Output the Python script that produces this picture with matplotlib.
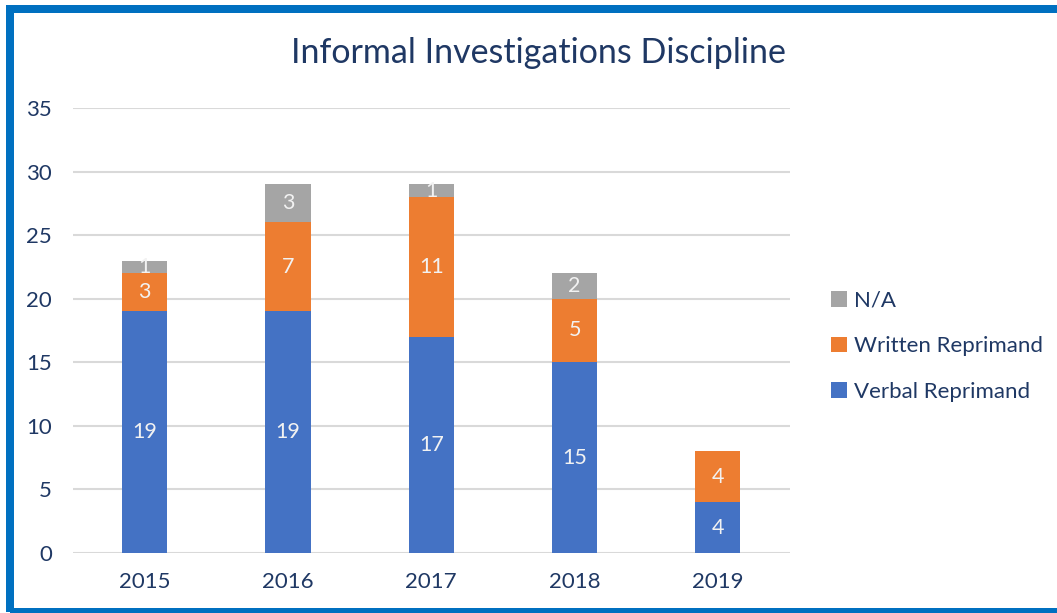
import numpy as np
import matplotlib.pyplot as plt
from matplotlib.patches import Rectangle

plt.rcParams['font.family'] = ['Lato', 'DejaVu Sans']

years = ['2015', '2016', '2017', '2018', '2019']
verbal = [19, 19, 17, 15, 4]
written = [3, 7, 11, 5, 4]
na = [1, 3, 1, 2, 0]

navy = '#1F3864'
c_verbal = '#4472C4'
c_written = '#ED7D31'
c_na = '#A5A5A5'

fig = plt.figure(figsize=(10.57, 6.13), dpi=100)
ax = fig.add_axes([0.069, 0.0979, 0.678, 0.7259])

x = np.arange(len(years))
w = 0.315
verbal = np.array(verbal)
written = np.array(written)
na = np.array(na)

b1 = ax.bar(x, verbal, w, color=c_verbal, label='Verbal Reprimand', zorder=3)
b2 = ax.bar(x, written, w, bottom=verbal, color=c_written, label='Written Reprimand', zorder=3)
b3 = ax.bar(x, na, w, bottom=verbal + written, color=c_na, label='N/A', zorder=3)

# data labels
for bars, vals, bottoms in [(b1, verbal, np.zeros(len(x))), (b2, written, verbal), (b3, na, verbal + written)]:
    for xi, v, b in zip(x, vals, bottoms):
        if v > 0:
            ax.text(xi, b + v / 2, str(v), ha='center', va='center',
                    color='#F2F2F2', fontsize=15.5, zorder=4)

ax.set_xlim(-0.5, len(years) - 0.5)
ax.set_ylim(0, 35)
ax.set_yticks(np.arange(0, 36, 5))
ax.set_xticks(x)
ax.set_xticklabels(years)
ax.tick_params(axis='both', length=0, labelsize=16, labelcolor=navy)
ax.tick_params(axis='y', pad=15)
ax.tick_params(axis='x', pad=14)
ax.grid(axis='y', color='#D9D9D9', linewidth=1.5, zorder=0)
for s in ax.spines.values():
    s.set_visible(False)

fig.text(0.509, 0.913, 'Informal Investigations Discipline', ha='center', va='center',
         fontsize=24.5, color=navy)

handles = [b3, b2, b1]
leg = fig.legend(handles, [h.get_label() for h in handles], loc='center left',
                 bbox_to_anchor=(0.776, 0.435), frameon=False, fontsize=16,
                 handlelength=0.7, handleheight=0.7, handletextpad=0.3,
                 labelspacing=1.15, labelcolor=navy, borderpad=0)

# blue frame around the chart
fig.patches.append(Rectangle((10 / 1057, 1.5 / 613), 1.2, 1 - 10 / 613, transform=fig.transFigure,
                             fill=False, edgecolor='#0070C0', linewidth=5.76))

fig.savefig('out.png', dpi=100)
